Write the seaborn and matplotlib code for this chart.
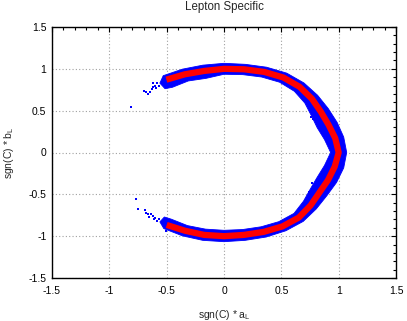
import numpy as np
import pandas as pd
import seaborn as sns
import matplotlib.pyplot as plt
from matplotlib.ticker import MultipleLocator, FuncFormatter

# the ring in polar form: angle (deg) round the origin,
# radius of the red band centre and of the blue band's outer / inner edge
angle = [124, 120, 110, 100, 90, 80, 70, 60, 50, 40, 30, 20, 10, 0,
         -10, -20, -30, -40, -50, -60, -70, -80, -90, -100, -110, -120, -124]
red_r = [1.0, 1.005, 0.995, 0.99, 1.0, 1.01, 1.025, 1.035, 1.025, 1.0, 0.975, 0.97, 0.985, 1.0,
         0.98, 0.965, 0.96, 0.985, 1.015, 1.02, 1.01, 1.0, 1.0, 1.0, 0.995, 1.0, 1.0]
blue_outer_r = [1.0, 1.06, 1.06, 1.06, 1.066, 1.07, 1.085, 1.095, 1.085, 1.065, 1.05, 1.05, 1.06, 1.07,
                1.06, 1.045, 1.035, 1.05, 1.075, 1.08, 1.075, 1.066, 1.066, 1.066, 1.06, 1.05, 1.0]
blue_inner_r = [0.92, 0.90, 0.91, 0.90, 0.935, 0.945, 0.96, 0.97, 0.955, 0.92, 0.88, 0.865, 0.89, 0.93,
                0.89, 0.865, 0.87, 0.905, 0.95, 0.955, 0.945, 0.935, 0.93, 0.93, 0.93, 0.92, 0.93]

# loose blue points at the two ends and inside the right edge
tail_x = [-0.811, -0.70, -0.68, -0.66, -0.645, -0.62, -0.616, -0.60, -0.58, -0.57, -0.59, -0.63,
          -0.767, -0.747, -0.69, -0.68, -0.66, -0.64, -0.62, -0.61, -0.60, -0.58, -0.57, -0.506, -0.65,
          0.76, 0.78, 0.80, 0.77, 0.79, 0.74, 0.81]
tail_y = [0.547, 0.74, 0.72, 0.70, 0.72, 0.78, 0.827, 0.80, 0.83, 0.79, 0.77, 0.76,
          -0.556, -0.679, -0.69, -0.72, -0.74, -0.73, -0.76, -0.80, -0.78, -0.82, -0.79, -0.935, -0.77,
          0.42, 0.40, 0.36, -0.37, -0.40, -0.47, -0.33]

sns.set_theme(style='white')
plt.rcParams['font.family'] = ['Liberation Sans', 'DejaVu Sans']
plt.rcParams['axes.unicode_minus'] = False

th = np.radians(angle)
ring = pd.DataFrame({
    'red_x': np.array(red_r) * np.cos(th), 'red_y': np.array(red_r) * np.sin(th),
    'out_x': np.array(blue_outer_r) * np.cos(th), 'out_y': np.array(blue_outer_r) * np.sin(th),
    'in_x': np.array(blue_inner_r) * np.cos(th), 'in_y': np.array(blue_inner_r) * np.sin(th),
})

fig = plt.figure(figsize=(4.07, 3.21), dpi=100)
ax = fig.add_axes([52 / 407, 1 - 278 / 321, 344 / 407, 251 / 321])

ax.fill(np.r_[ring.out_x, ring.in_x[::-1]], np.r_[ring.out_y, ring.in_y[::-1]],
        color='#0000ff', lw=0.6, ec='#0000ff', zorder=2)

tails = pd.DataFrame({'x': tail_x, 'y': tail_y})
sns.scatterplot(data=tails, x='x', y='y', color='#0000ff', marker='s', s=3.5, linewidth=0, ax=ax, zorder=3)

sns.lineplot(data=ring.iloc[1:-1], x='red_x', y='red_y', sort=False, estimator=None, color='#ff0000',
             lw=4.5, solid_capstyle='butt', ax=ax, zorder=4)

ax.set_xlim(-1.5, 1.5)
ax.set_ylim(-1.5, 1.5)
fmt = FuncFormatter(lambda v, _: f'{round(v, 2) + 0:g}')
for axis in (ax.xaxis, ax.yaxis):
    axis.set_major_locator(MultipleLocator(0.5))
    axis.set_minor_locator(MultipleLocator(0.1))
    axis.set_major_formatter(fmt)
ax.tick_params(which='both', direction='in', top=True, right=True, colors='black', labelsize=7.5)
ax.tick_params(which='major', length=3.5, width=0.8)
ax.tick_params(which='minor', length=2, width=0.8)
ax.tick_params(axis='x', pad=6)
ax.tick_params(axis='y', pad=4)
ax.grid(True, which='major', color='#a0a0a0', linestyle=(0, (1, 2)), lw=0.8)
ax.set_axisbelow(True)
for sp in ax.spines.values():
    sp.set_color('black')
    sp.set_linewidth(1)

ax.set_title('Lepton Specific', fontsize=8.3, pad=12)
ax.set_xlabel('sgn(C) * a$\\mathregular{_L}$', fontsize=7.5)
ax.set_ylabel('sgn(C) * b$\\mathregular{_L}$', fontsize=7.5)
ax.xaxis.set_label_coords(0.5, -0.12)
ax.yaxis.set_label_coords(-0.105, 0.5)

fig.savefig('out.png', dpi=100)
